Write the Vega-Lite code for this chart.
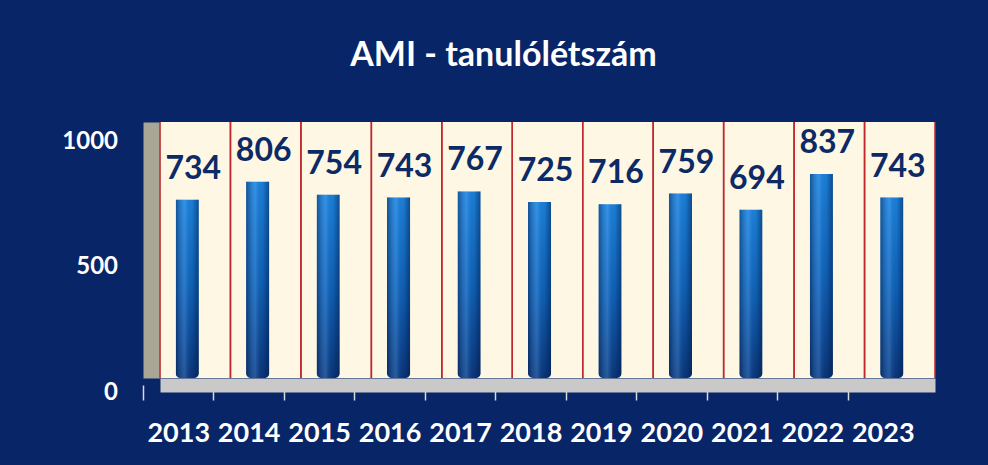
{
  "$schema": "https://vega.github.io/schema/vega-lite/v6.json",
  "autosize": {"type": "none"},
  "width": 775,
  "height": 256,
  "padding": {"left": 160, "top": 122, "right": 53, "bottom": 87},
  "background": "#072567",
  "title": {
    "text": "AMI - tanulólétszám",
    "font": "Lato",
    "fontSize": 34,
    "fontWeight": "bold",
    "color": "#ffffff",
    "anchor": "middle",
    "dx": -44,
    "offset": 48
  },
  "config": {
    "view": {"fill": "#FEF7E4", "stroke": null},
    "font": "Lato"
  },
  "data": {
    "values": [
      {"year": "2013", "students": 734},
      {"year": "2014", "students": 806},
      {"year": "2015", "students": 754},
      {"year": "2016", "students": 743},
      {"year": "2017", "students": 767},
      {"year": "2018", "students": 725},
      {"year": "2019", "students": 716},
      {"year": "2020", "students": 759},
      {"year": "2021", "students": 694},
      {"year": "2022", "students": 837},
      {"year": "2023", "students": 743}
    ]
  },
  "encoding": {
    "x": {
      "field": "year",
      "type": "ordinal",
      "scale": {"paddingInner": 0, "paddingOuter": 0},
      "axis": {
        "title": null,
        "orient": "bottom",
        "offset": 7,
        "domainWidth": 14,
        "domainColor": "#C9C9C9",
        "domainCap": "butt",
        "bandPosition": 0,
        "tickOffset": -17,
        "tickSize": 15,
        "tickColor": "#D9D9D9",
        "tickWidth": 1.5,
        "labelOffset": 0,
        "labelPadding": 20,
        "labelAngle": 0,
        "labelFont": "Lato",
        "labelFontSize": 27,
        "labelFontWeight": "bold",
        "labelColor": "#ffffff",
        "grid": false
      }
    }
  },
  "layer": [
    {
      "mark": {"type": "rule", "color": "#C0282D", "strokeWidth": 1.5},
      "encoding": {
        "x": {"field": "year", "type": "ordinal", "bandPosition": 0}
      }
    },
    {
      "mark": {"type": "rule", "color": "#C0282D", "strokeWidth": 1.5},
      "encoding": {
        "x": {"field": "year", "type": "ordinal", "bandPosition": 1}
      }
    },
    {
      "mark": {
        "type": "bar",
        "width": {"band": 0.33},
        "xOffset": -8,
        "yOffset": 6,
        "cornerRadius": 5,
        "color": {
          "gradient": "linear",
          "x1": 0, "y1": 0, "x2": 0, "y2": 1,
          "stops": [
            {"offset": 0, "color": "#1C84DE"},
            {"offset": 0.5, "color": "#1062B8"},
            {"offset": 1, "color": "#0A3478"}
          ]
        }
      },
      "encoding": {
        "y": {
          "field": "students",
          "type": "quantitative",
          "scale": {"domain": [0, 1020], "nice": false},
          "axis": {
            "title": null,
            "values": [0, 500, 1000],
            "format": "d",
            "offset": 8.5,
            "domainWidth": 17,
            "domainColor": "#A9A696",
            "domainCap": "butt",
            "ticks": false,
            "tickSize": 0,
            "grid": false,
            "labelPadding": 34,
            "labelOffset": 14,
            "labelFont": "Lato",
            "labelFontSize": 24,
            "labelFontWeight": "bold",
            "labelColor": "#ffffff"
          }
        }
      }
    },
    {
      "mark": {
        "type": "bar",
        "width": {"band": 0.33},
        "xOffset": -8,
        "yOffset": 6,
        "cornerRadius": 5,
        "color": {
          "gradient": "linear",
          "x1": 0, "y1": 0, "x2": 1, "y2": 0,
          "stops": [
            {"offset": 0, "color": "rgba(0,20,60,0.45)"},
            {"offset": 0.4, "color": "rgba(120,190,255,0.25)"},
            {"offset": 0.7, "color": "rgba(0,20,60,0.05)"},
            {"offset": 1, "color": "rgba(0,20,60,0.5)"}
          ]
        }
      },
      "encoding": {
        "y": {"field": "students", "type": "quantitative"}
      }
    },
    {
      "mark": {
        "type": "text",
        "font": "Lato",
        "fontSize": 32,
        "fontWeight": "bold",
        "color": "#0C2A66",
        "baseline": "alphabetic",
        "align": "center",
        "dy": -15,
        "xOffset": -2
      },
      "encoding": {
        "y": {"field": "students", "type": "quantitative"},
        "text": {"field": "students", "type": "quantitative"}
      }
    }
  ]
}
